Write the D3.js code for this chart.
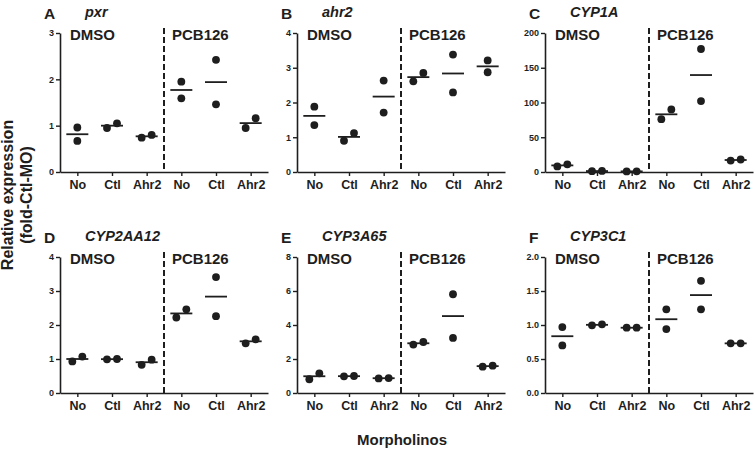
<!DOCTYPE html>
<html><head><meta charset="utf-8">
<script src="https://cdn.jsdelivr.net/npm/d3@7"></script>
<style>body{margin:0;background:#fff} svg{display:block;font-family:"Liberation Sans",Arial,sans-serif}</style>
</head><body><svg id="c" width="755" height="450"></svg>
<script>
const categories = ["No","Ctl","Ahr2","No","Ctl","Ahr2"];
const groups = ["DMSO","PCB126"];
const panelLetters = ["A","B","C","D","E","F"];
const genes = ["pxr","ahr2","CYP1A","CYP2AA12","CYP3A65","CYP3C1"];
const yMax = [3,4,200,4,8,2];
const yTicks = [[0,1,2,3],[0,1,2,3,4],[0,50,100,150,200],[0,1,2,3,4],[0,2,4,6,8],[0,0.5,1,1.5,2]];
const yFormats = ["d","d","d","d","d",".1f"];
const pxrValues = [[0.96,0.67],[0.95,1.05],[0.74,0.80],[1.95,1.59],[2.42,1.46],[0.95,1.16]];
const ahr2Values = [[1.88,1.35],[0.90,1.12],[2.63,1.71],[2.61,2.85],[3.38,2.29],[3.21,2.87]];
const cyp1aValues = [[8,11],[1.2,1.5],[0.8,1.0],[76,90],[177,102],[16.5,18]];
const cyp2aa12Values = [[0.93,1.07],[0.99,1.0],[0.83,0.98],[2.22,2.46],[3.41,2.26],[1.46,1.58]];
const cyp3a65Values = [[0.81,1.16],[0.98,1.0],[0.86,0.88],[2.85,3.0],[5.81,3.24],[1.55,1.61]];
const cyp3c1Values = [[0.97,0.70],[0.995,1.01],[0.96,0.96],[1.23,0.94],[1.65,1.23],[0.73,0.73]];
const panelValues = [pxrValues, ahr2Values, cyp1aValues, cyp2aa12Values, cyp3a65Values, cyp3c1Values];

const svg = d3.select("#c");
const colX = [60, 297, 545];
const panelW = 208;
const rowTop = [33, 257];
const rowBottom = [172, 393];
const ink = "#1e1e1e";

panelValues.forEach((vals, i) => {
  const col = i % 3, row = Math.floor(i / 3);
  const x0 = colX[col], x1 = x0 + panelW;
  const yT = rowTop[row], yB = rowBottom[row];
  const g = svg.append("g");
  const x = d3.scalePoint().domain(d3.range(categories.length)).range([x0, x1]).padding(0.5);
  const y = d3.scaleLinear().domain([0, yMax[i]]).range([yB, yT]);

  const ya = g.append("g").attr("transform", `translate(${x0},0)`)
    .call(d3.axisLeft(y).tickValues(yTicks[i]).tickFormat(d3.format(yFormats[i])).tickSize(4).tickPadding(2).tickSizeOuter(0));
  const xa = g.append("g").attr("transform", `translate(0,${yB})`)
    .call(d3.axisBottom(x).tickFormat(d => categories[d]).tickSize(4).tickPadding(4).tickSizeOuter(0));
  [ya, xa].forEach(a => {
    a.select(".domain").attr("stroke", ink).attr("stroke-width", 1.6);
    a.selectAll(".tick line").attr("stroke", ink).attr("stroke-width", 1.4);
  });
  ya.selectAll("text").attr("font-size", 9).attr("font-weight", "bold").attr("fill", ink);
  xa.selectAll("text").attr("font-size", 12.5).attr("font-weight", "bold").attr("fill", ink);

  const xd = (x(2) + x(3)) / 2;
  g.append("line").attr("x1", xd).attr("x2", xd).attr("y1", yT - 5).attr("y2", yB)
    .attr("stroke", ink).attr("stroke-width", 2).attr("stroke-dasharray", "6,3");

  g.append("text").attr("x", x0 + 10).attr("y", yT + 7).attr("font-size", 15).attr("font-weight", "bold").attr("fill", ink).text(groups[0]);
  g.append("text").attr("x", xd + 8).attr("y", yT + 7).attr("font-size", 15).attr("font-weight", "bold").attr("fill", ink).text(groups[1]);

  g.append("text").attr("x", x0 - 16).attr("y", yT - 14).attr("font-size", 15.5).attr("font-weight", "bold").attr("fill", ink).text(panelLetters[i]);
  g.append("text").attr("x", x0 + 25).attr("y", yT - 16).attr("font-size", 14.5).attr("font-weight", "bold").attr("font-style", "italic").attr("fill", ink).text(genes[i]);

  vals.forEach((pair, c) => {
    const cx = x(c);
    const sorted = pair.slice().sort((a, b) => a - b);
    const py = sorted.map(v => y(v));
    const close = Math.abs(py[0] - py[1]) < 11;
    sorted.forEach((v, k) => {
      const off = close ? (k === 0 ? -5 : 5) : 0;
      g.append("circle").attr("cx", cx + off).attr("cy", y(v)).attr("r", 3.9).attr("fill", ink);
    });
    const m = d3.mean(pair);
    g.append("line").attr("x1", cx - 11).attr("x2", cx + 11).attr("y1", y(m)).attr("y2", y(m))
      .attr("stroke", ink).attr("stroke-width", 1.8);
  });
});

const yt = svg.append("g").attr("transform", "translate(0,195) rotate(-90)");
yt.append("text").attr("x", 0).attr("y", 13).attr("text-anchor", "middle").attr("font-size", 16).attr("font-weight", "bold").attr("fill", ink).text("Relative expression");
yt.append("text").attr("x", 0).attr("y", 32).attr("text-anchor", "middle").attr("font-size", 16).attr("font-weight", "bold").attr("fill", ink).text("(fold-Ctl-MO)");
svg.append("text").attr("x", 402).attr("y", 445).attr("text-anchor", "middle").attr("font-size", 15).attr("font-weight", "bold").attr("fill", ink).text("Morpholinos");
</script></body></html>
